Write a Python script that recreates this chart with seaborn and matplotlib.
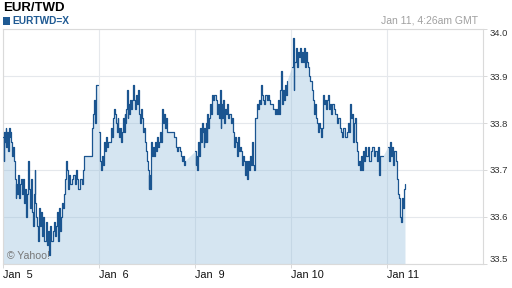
import numpy as np
import matplotlib
matplotlib.use("Agg")
import matplotlib.pyplot as plt
from matplotlib.patches import Rectangle
import seaborn as sns

# ---- data: (time in 15-minute steps from Jan 5 00:00 trading-day start, price) ----
jan5 = [(0, 33.77), (0.5, 33.72), (1, 33.78), (2, 33.76), (2.5, 33.79), (3, 33.75), (4, 33.78), (5, 33.74),
        (6, 33.79), (6.5, 33.77), (7, 33.78), (8, 33.76), (9, 33.73), (10, 33.75), (11, 33.72), (12, 33.68),
        (12.5, 33.64), (13, 33.67), (14, 33.65), (15, 33.69), (16, 33.64), (17, 33.67), (18, 33.68), (19, 33.65),
        (20, 33.68), (21, 33.63), (22, 33.66), (23, 33.60), (24, 33.65), (25, 33.72), (26, 33.66), (27, 33.62),
        (28, 33.68), (29, 33.61), (30, 33.58), (31, 33.65), (31.5, 33.70), (32, 33.63), (33, 33.60), (34, 33.58),
        (35, 33.55), (35.5, 33.60), (36, 33.62), (37, 33.58), (38, 33.61), (39, 33.56), (40, 33.60), (41, 33.55),
        (43, 33.59), (44, 33.54), (45, 33.57), (46, 33.52), (47, 33.58), (48, 33.55), (50, 33.57), (51, 33.59),
        (52, 33.56), (53, 33.58), (54, 33.61), (55, 33.55), (56, 33.62), (57, 33.57), (58, 33.60), (59, 33.63),
        (60, 33.62), (61, 33.65), (62, 33.68), (63, 33.72), (64, 33.70), (65, 33.66), (66, 33.69), (67, 33.67),
        (69, 33.68), (70, 33.69), (72, 33.67), (73, 33.70), (74, 33.68), (75, 33.66), (77, 33.68), (79, 33.67),
        (80, 33.70), (81, 33.73), (88, 33.73), (89, 33.79), (90, 33.82), (91, 33.85), (92, 33.80), (93, 33.88),
        (95, 33.88)]
jan6 = [(96, 33.78), (97, 33.72), (98, 33.70), (99, 33.73), (100, 33.71), (101, 33.76), (102, 33.74), (103, 33.77),
        (104, 33.75), (105, 33.76), (107, 33.76), (108, 33.79), (109, 33.77), (110, 33.81), (110.5, 33.82),
        (111, 33.83), (112, 33.82), (113, 33.80), (114, 33.78), (114.5, 33.81), (115, 33.79), (116, 33.77),
        (117, 33.79), (118, 33.76), (119, 33.78), (120, 33.81), (121, 33.78), (121.5, 33.82), (122, 33.80),
        (123, 33.83), (124, 33.87), (124.5, 33.81), (125, 33.84), (126, 33.82), (127, 33.85), (128, 33.83),
        (129, 33.85), (130, 33.88), (131, 33.85), (132, 33.83), (133, 33.86), (134, 33.84), (135, 33.87),
        (136, 33.82), (137, 33.80), (138, 33.83), (139, 33.81), (140, 33.78), (141, 33.79), (142, 33.76),
        (143, 33.74), (144, 33.72), (145, 33.70), (145.5, 33.66), (146, 33.69), (147, 33.66), (148, 33.76),
        (149, 33.73), (150, 33.75), (151, 33.73), (152, 33.76), (153, 33.74), (154, 33.77), (155, 33.75),
        (156, 33.76), (157, 33.78), (158, 33.76), (159, 33.83), (160, 33.80), (161, 33.82), (162, 33.79),
        (163, 33.81), (164, 33.78), (170, 33.78), (171, 33.77), (173, 33.75), (174, 33.74), (175, 33.75),
        (177, 33.74), (178, 33.73), (179, 33.72), (180, 33.73), (181, 33.71), (182, 33.72)]
jan9 = [(192, 33.74), (192.5, 33.71), (193, 33.73), (194, 33.70), (195, 33.76), (196, 33.73), (197, 33.79),
        (198, 33.76), (199, 33.80), (200, 33.78), (200.5, 33.75), (201, 33.79), (202, 33.76), (203, 33.80),
        (203.5, 33.76), (204, 33.82), (205, 33.79), (206, 33.81), (207, 33.84), (208, 33.82), (209, 33.86),
        (210, 33.85), (211, 33.86), (212, 33.86), (213, 33.85), (214, 33.82), (215, 33.84), (216, 33.81),
        (217, 33.87), (217.5, 33.79), (218, 33.84), (219, 33.81), (220, 33.85), (221, 33.80), (222, 33.83),
        (223, 33.82), (224, 33.84), (225, 33.81), (226, 33.82), (228, 33.80), (229, 33.81), (230, 33.78),
        (231, 33.75), (232, 33.77), (233, 33.76), (234, 33.73), (235, 33.77), (236, 33.74), (237, 33.75),
        (238, 33.74), (239, 33.71), (240, 33.73), (241, 33.72), (242, 33.69), (243, 33.72), (244, 33.68),
        (245, 33.72), (246, 33.70), (247, 33.73), (248, 33.71), (249, 33.76), (250, 33.71), (251, 33.70),
        (252, 33.81), (254, 33.84), (255, 33.83), (256, 33.85), (257, 33.84), (258, 33.88), (259, 33.86),
        (260, 33.85), (261, 33.84), (262, 33.86), (264, 33.85), (265, 33.86), (266, 33.85), (267, 33.84),
        (269, 33.84), (270, 33.83), (272, 33.82), (273, 33.83), (274, 33.82), (275, 33.85), (276, 33.82),
        (277, 33.87), (278, 33.91), (279, 33.84), (280, 33.87), (281, 33.85), (282, 33.88), (283, 33.86),
        (284, 33.89)]
jan10 = [(289, 33.92), (289.5, 33.95), (290, 33.98), (290.5, 33.87), (291, 33.93), (292, 33.93), (293, 33.96),
         (294, 33.92), (295, 33.95), (296, 33.94), (297, 33.96), (298, 33.93), (299, 33.95), (300, 33.93),
         (301, 33.96), (302, 33.92), (303, 33.95), (304, 33.93), (305, 33.92), (306, 33.90), (307, 33.89),
         (309, 33.87), (310, 33.85), (311, 33.82), (312, 33.84), (313, 33.81), (314, 33.80), (315, 33.78),
         (316, 33.80), (317, 33.79), (318, 33.77), (319, 33.79), (320, 33.86), (321, 33.84), (322, 33.85),
         (323, 33.83), (324, 33.85), (325, 33.86), (326, 33.83), (327, 33.84), (328, 33.82), (329, 33.84),
         (331, 33.83), (332, 33.82), (334, 33.80), (335, 33.81), (337, 33.79), (338, 33.78), (339, 33.77),
         (340, 33.79), (342, 33.77), (344, 33.78), (345, 33.80), (346, 33.78), (347, 33.84), (348, 33.81),
         (349, 33.82), (350, 33.76), (351, 33.80), (352, 33.81), (353, 33.76), (354, 33.74), (355, 33.71),
         (356, 33.72), (357, 33.70), (358, 33.73), (359, 33.70), (360, 33.74), (361, 33.72), (362, 33.75),
         (363, 33.73), (365, 33.75), (366, 33.72), (368, 33.74), (369, 33.75), (371, 33.73), (372, 33.74),
         (374, 33.72), (375, 33.75), (376, 33.69), (377, 33.73), (380, 33.73)]
jan11 = [(385, 33.75), (386, 33.72), (387, 33.76), (388, 33.73), (389, 33.75), (390, 33.71), (391, 33.74),
         (392, 33.74), (393, 33.72), (394, 33.68), (395, 33.65), (396, 33.64), (397, 33.60), (398, 33.59),
         (399, 33.64), (400, 33.62), (401, 33.66), (402, 33.67)]

sessions = [jan5, jan6, jan9, jan10, jan11]
tick_pos = [0, 96, 192, 288, 384]
tick_labels = ["Jan  5", "Jan  6", "Jan  9", "Jan 10", "Jan 11"]
y_ticks = [33.5, 33.6, 33.7, 33.8, 33.9, 34.0]

LINE = "#1b5590"
GRID = "#e5e8ec"

sns.set_theme(style="white")
plt.rcParams["font.family"] = ["Liberation Sans", "DejaVu Sans"]

W, H = 512, 288
fig = plt.figure(figsize=(W / 100, H / 100), dpi=100)
ax = fig.add_axes([3 / W, 24 / H, 480 / W, 235 / H])

# area fill (step shape within sessions, straight across gaps)
fx, fy = [], []
for s in sessions:
    t = [p[0] for p in s]
    v = [p[1] for p in s]
    for i in range(len(t)):
        fx.append(t[i]); fy.append(v[i])
        if i + 1 < len(t):
            fx.append(t[i + 1]); fy.append(v[i])
ax.fill_between(fx, fy, 33.5, color="#8fbadb", alpha=0.37, linewidth=0, zorder=1)

for s in sessions:
    t = [p[0] for p in s]
    v = [p[1] for p in s]
    sns.lineplot(x=t, y=v, ax=ax, color=LINE, linewidth=0.9, drawstyle="steps-post",
                 estimator=None, sort=False, zorder=3)

ax.set_xlim(0, 480)
ax.set_ylim(33.5, 34.0)
ax.set_axisbelow(True)
ax.grid(True, color=GRID, linewidth=0.8, zorder=0)

ax.yaxis.tick_right()
ax.set_yticks(y_ticks)
ax.set_yticklabels([f"{y:.1f}" for y in y_ticks])
ax.set_xticks(tick_pos)
ax.set_xticklabels(tick_labels)
for lab in ax.get_xticklabels():
    lab.set_ha("left")
ylabs = ax.get_yticklabels()
ylabs[0].set_va("bottom")
ylabs[-1].set_va("top")

ax.tick_params(axis="y", which="both", right=True, left=False, length=3, width=0.7,
               color="#d8d8d8", pad=1.5, labelsize=6.8, labelcolor="#333333")
ax.tick_params(axis="x", which="both", bottom=True, length=3, width=0.7,
               color="#d8d8d8", pad=1.0, labelsize=7.8, labelcolor="#111111")
for sp in ax.spines.values():
    sp.set_color("#dadada")
    sp.set_linewidth(0.8)
ax.set_xlabel("")
ax.set_ylabel("")

# header texts
fig.text(3 / W, 1 - 10.7 / H, "EUR/TWD", fontsize=9.5, fontweight="bold", color="#000000", va="baseline")
fig.add_artist(Rectangle((2.7 / W, 1 - 25 / H), 7.3 / W, 8.3 / H, transform=fig.transFigure,
                         color="#1f5a93", lw=0))
fig.text(12.7 / W, 1 - 24 / H, "EURTWD=X", fontsize=7.3, fontweight="bold", color="#1f5a93", va="baseline")
fig.text(478 / W, 1 - 23.3 / H, "Jan 11, 4:26am GMT", fontsize=7.5, color="#a0a0a0", ha="right", va="baseline")
fig.text(6.7 / W, 1 - 259.3 / H, "© Yahoo!", fontsize=7.6, color="#777777", va="baseline")

fig.savefig("out.png", dpi=100)
